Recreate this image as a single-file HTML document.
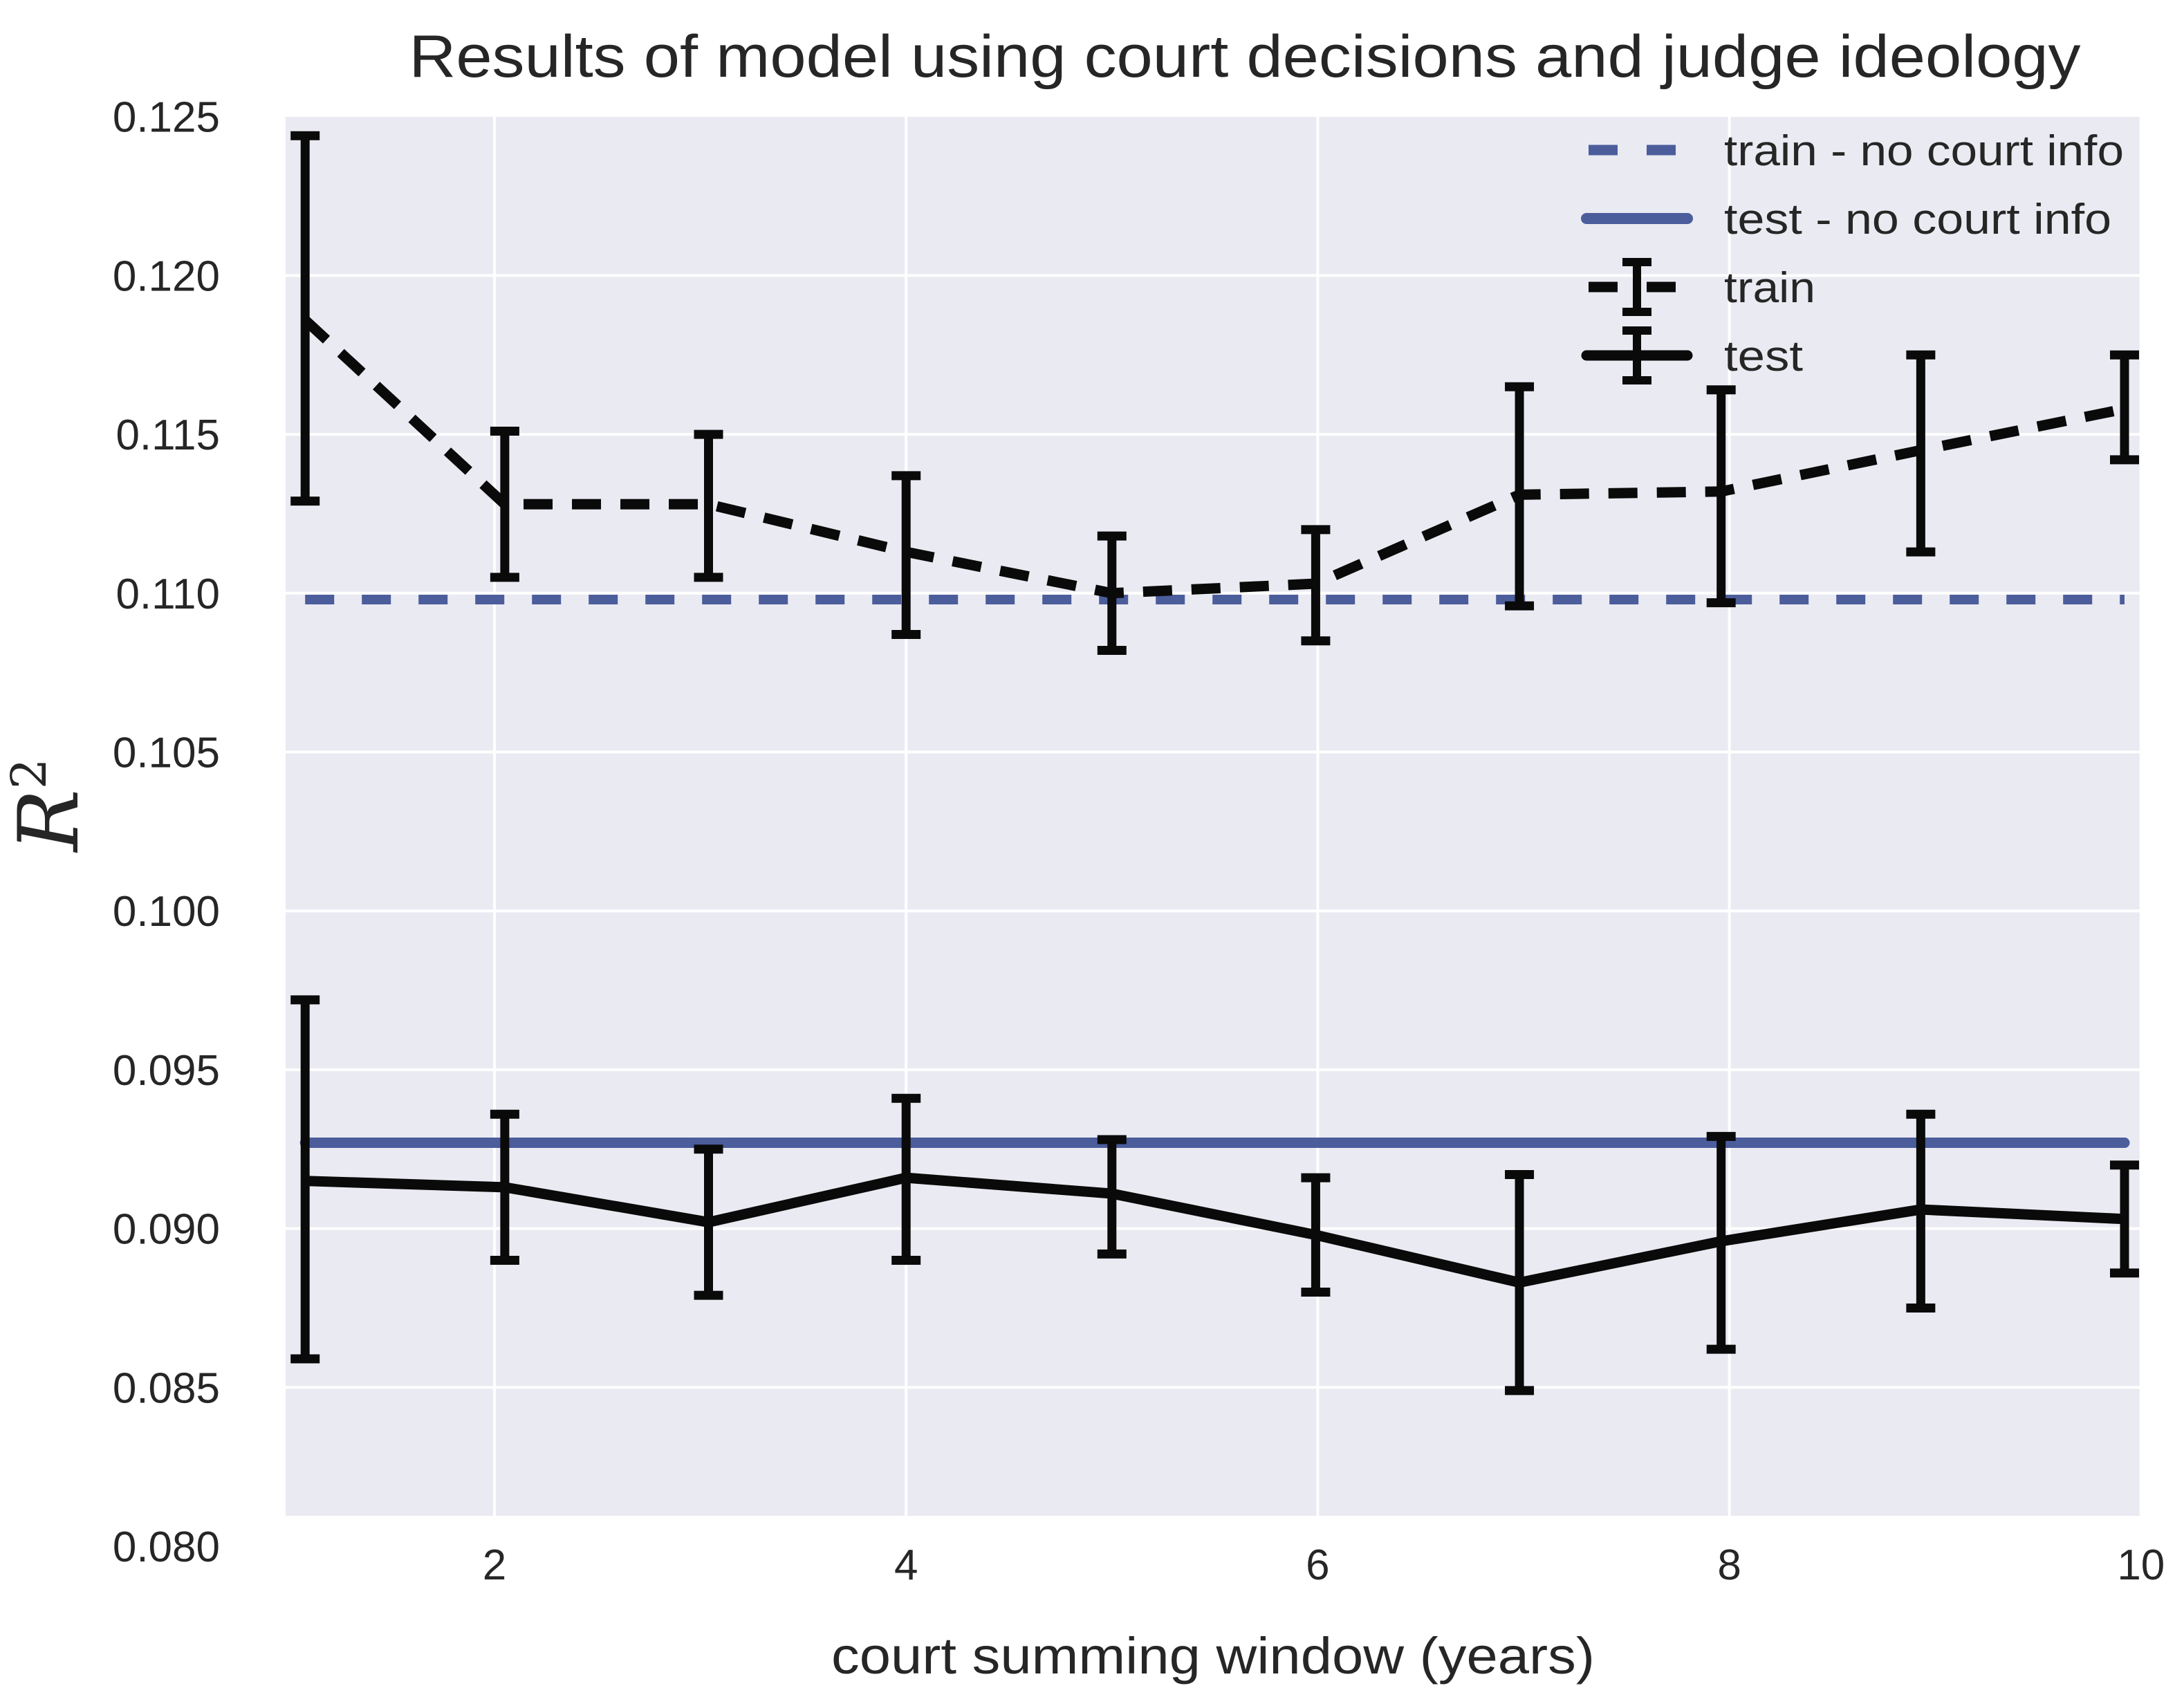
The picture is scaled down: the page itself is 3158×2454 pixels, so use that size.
<!DOCTYPE html>
<html><head><meta charset="utf-8"><style>html,body{margin:0;padding:0;background:#fff}svg{display:block}</style></head>
<body>
<svg id="chart" width="3158" height="2454" viewBox="0 0 3158 2454" xmlns="http://www.w3.org/2000/svg" font-family="'Liberation Sans', sans-serif">
<text x="1800" y="111" font-size="86" fill="#262626" text-anchor="middle" textLength="2417" lengthAdjust="spacingAndGlyphs">Results of model using court decisions and judge ideology</text>
<rect x="413" y="169" width="2683" height="2023" fill="#eaeaf2"/>
<g id="grid"></g>
<g id="series"></g>
<g id="ticks"></g>
<text x="1754" y="2420" font-size="74" fill="#262626" text-anchor="middle" textLength="1104" lengthAdjust="spacingAndGlyphs">court summing window (years)</text>
<text transform="translate(112,1164) rotate(-90)" font-family="'DejaVu Serif','Liberation Serif',serif" font-style="italic" font-size="120" fill="#262626" text-anchor="middle">R<tspan font-size="70" dy="-46" font-style="normal">2</tspan></text>
<g id="legend"></g>
</svg>
<script>
const xVals=[1.08,2.05,3.04,4.0,5.0,5.99,6.98,7.96,8.93,9.92];
const trainVals=[0.1186,0.1128,0.1128,0.1113,0.1100,0.1103,0.1131,0.1132,0.1145,0.1158];
const trainLo=[0.1129,0.1105,0.1105,0.1087,0.1082,0.1085,0.1096,0.1097,0.1113,0.1142];
const trainHi=[0.1244,0.1151,0.1150,0.1137,0.1118,0.1120,0.1165,0.1164,0.1175,0.1175];
const testVals=[0.0915,0.0913,0.0902,0.0916,0.0911,0.0898,0.0883,0.0896,0.0906,0.0903];
const testLo=[0.0859,0.0890,0.0879,0.0890,0.0892,0.0880,0.0849,0.0862,0.0875,0.0886];
const testHi=[0.0972,0.0936,0.0925,0.0941,0.0928,0.0916,0.0917,0.0929,0.0936,0.0920];
const trainBase=[0.1098];
const testBase=[0.0927];
const xTicks=[2,4,6,8,10];
const yTicks=[0.080,0.085,0.090,0.095,0.100,0.105,0.110,0.115,0.120,0.125];
const yTickLabels=["0.080","0.085","0.090","0.095","0.100","0.105","0.110","0.115","0.120","0.125"];
const legendLabels=["train - no court info","test - no court info","train","test"];

const NS="http://www.w3.org/2000/svg";
const X=v=>715+(v-2)*297.6;
const Y=v=>2236-(v-0.08)/0.005*229.7;
function mk(tag,parent,attrs){const e=document.createElementNS(NS,tag);for(const k in attrs)e.setAttribute(k,attrs[k]);parent.appendChild(e);return e;}
const grid=document.getElementById('grid'),ser=document.getElementById('series'),tk=document.getElementById('ticks'),lg=document.getElementById('legend');
xTicks.forEach(t=>{const l=mk('line',grid,{x1:X(t),x2:X(t),y1:169,y2:2192,stroke:'#fff','stroke-width':4});

const tx=mk('text',tk,{x:X(t),y:2284,'font-size':62,fill:'#262626','text-anchor':'middle'});tx.textContent=t;
});
yTicks.forEach((t,i)=>{if(Y(t)>169&&Y(t)<2192){const l=mk('line',grid,{x1:413,x2:3096,y1:Y(t),y2:Y(t),stroke:'#fff','stroke-width':4});
}
const tx=mk('text',tk,{x:318,y:Y(t)+22,'font-size':62,fill:'#262626','text-anchor':'end'});tx.textContent=yTickLabels[i];
});
const x0=X(xVals[0]),x1=X(xVals[xVals.length-1]);
let b=mk('line',ser,{x1:x0,x2:x1,y1:Y(trainBase[0]),y2:Y(trainBase[0]),stroke:'#4c5d9c','stroke-width':14,'stroke-dasharray':'42 40'});

b=mk('line',ser,{x1:x0,x2:x1,y1:Y(testBase[0]),y2:Y(testBase[0]),stroke:'#4c5d9c','stroke-width':15,'stroke-linecap':'round'});

function series(vals,lo,hi,dash,name){
 const p=mk('polyline',ser,{points:xVals.map((x,i)=>X(x)+','+Y(vals[i])).join(' '),fill:'none',stroke:'#0a0a0a','stroke-width':15,'stroke-dasharray':dash,'stroke-linejoin':'round'});
 
 xVals.forEach((x,i)=>{const g=mk('g',ser,{stroke:'#0a0a0a','stroke-width':13});
  
  mk('line',g,{x1:X(x),x2:X(x),y1:Y(lo[i]),y2:Y(hi[i])});
  mk('line',g,{x1:X(x)-21,x2:X(x)+21,y1:Y(lo[i]),y2:Y(lo[i])});
  mk('line',g,{x1:X(x)-21,x2:X(x)+21,y1:Y(hi[i]),y2:Y(hi[i])});});
}
series(trainVals,trainLo,trainHi,'42 28','train');
series(testVals,testLo,testHi,'none','test');
const rows=[217,316,415,514];
rows.forEach((ry,i)=>{const g=mk('g',lg,{});
 
 if(i===0)mk('line',g,{x1:2297,x2:2423,y1:ry,y2:ry,stroke:'#4c5d9c','stroke-width':15,'stroke-dasharray':'42 42'});
 if(i===1)mk('line',g,{x1:2294,x2:2440,y1:ry,y2:ry,stroke:'#4c5d9c','stroke-width':16,'stroke-linecap':'round'});
 if(i>=2){mk('line',g,{x1:i===2?2297:2294,x2:i===2?2423:2440,y1:ry,y2:ry,stroke:'#0a0a0a','stroke-width':15,'stroke-dasharray':i===2?'42 42':'none','stroke-linecap':i===3?'round':'butt'});
  mk('line',g,{x1:2367,x2:2367,y1:ry-36,y2:ry+36,stroke:'#0a0a0a','stroke-width':12});
  mk('line',g,{x1:2346,x2:2388,y1:ry-36,y2:ry-36,stroke:'#0a0a0a','stroke-width':12});
  mk('line',g,{x1:2346,x2:2388,y1:ry+36,y2:ry+36,stroke:'#0a0a0a','stroke-width':12});}
 const t=mk('text',g,{x:2493,y:ry+22,'font-size':62,fill:'#262626',textLength:[578,560,132,114][i],lengthAdjust:'spacingAndGlyphs'});t.textContent=legendLabels[i];});
</script>
</body></html>
